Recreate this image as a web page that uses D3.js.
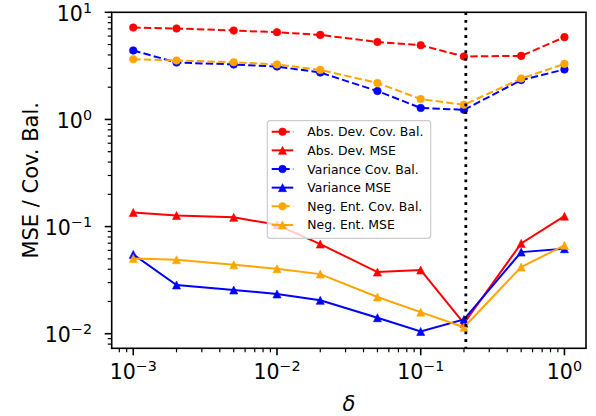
<!DOCTYPE html>
<html>
<head>
<meta charset="utf-8">
<script src="https://cdn.jsdelivr.net/npm/d3@7"></script>
<style>
  html, body { margin: 0; padding: 0; background: #fff; }
  svg { display: block; font-family: "DejaVu Sans", sans-serif; }
</style>
</head>
<body>
<svg id="chart" width="596" height="416"></svg>
<script>
// ---- data ----
const deltas = [0.001, 0.002, 0.005, 0.01, 0.02, 0.05, 0.1, 0.2, 0.5, 1.0];
const absDevCovBal = [7.21, 7.06, 6.76, 6.52, 6.15, 5.29, 4.93, 3.87, 3.92, 5.86];
const absDevMSE = [0.1356, 0.127, 0.122, 0.104, 0.0687, 0.0376, 0.0393, 0.0125, 0.0697, 0.125];
const varCovBal = [4.40, 3.40, 3.26, 3.12, 2.74, 1.84, 1.28, 1.23, 2.33, 2.93];
const varMSE = [0.0550, 0.0285, 0.0256, 0.0235, 0.0205, 0.0141, 0.0105, 0.0136, 0.0578, 0.0621];
const negEntCovBal = [3.65, 3.55, 3.42, 3.26, 2.90, 2.19, 1.55, 1.37, 2.41, 3.30];
const negEntMSE = [0.0505, 0.0490, 0.0440, 0.0404, 0.0360, 0.0220, 0.0159, 0.0115, 0.0419, 0.0668];
const seriesNames = ["Abs. Dev. Cov. Bal.", "Abs. Dev. MSE", "Variance Cov. Bal.", "Variance MSE", "Neg. Ent. Cov. Bal.", "Neg. Ent. MSE"];
const seriesColors = ["#ff0000", "#ff0000", "#0000ff", "#0000ff", "#ffa500", "#ffa500"];
const seriesKinds = ["cov", "mse", "cov", "mse", "cov", "mse"];
const seriesValues = [absDevCovBal, absDevMSE, varCovBal, varMSE, negEntCovBal, negEntMSE];
const vlineDelta = 0.206;
const xTickExps = [-3, -2, -1, 0];
const yTickExps = [-2, -1, 0, 1];
const xLabel = "δ";
const yLabel = "MSE / Cov. Bal.";

// ---- layout ----
const L = 111.7, R = 586, T = 12.3, B = 348.3;
const x = d3.scaleLog().domain([Math.pow(10, -3.15), Math.pow(10, 0.15)]).range([L, R]);
const y = d3.scaleLog().domain([Math.pow(10, -2.136), 10]).range([B, T]);

const svg = d3.select("#chart");
const lw = 2;
const dash = "7.4,3.2";

// plot clip
svg.append("defs").append("clipPath").attr("id", "clip")
  .append("rect").attr("x", L).attr("y", T).attr("width", R - L).attr("height", B - T);

const plot = svg.append("g").attr("clip-path", "url(#clip)");

const line = d3.line().x(d => x(d[0])).y(d => y(d[1]));

function triPath(cx, cy, s) {
  return `M${cx},${cy - s}L${cx - s},${cy + s}L${cx + s},${cy + s}Z`;
}

seriesValues.forEach((vals, i) => {
  const pts = deltas.map((d, j) => [d, vals[j]]);
  const col = seriesColors[i];
  plot.append("path").datum(pts)
    .attr("d", line)
    .attr("fill", "none")
    .attr("stroke", col)
    .attr("stroke-width", lw)
    .attr("stroke-dasharray", seriesKinds[i] === "cov" ? dash : null);
  if (seriesKinds[i] === "cov") {
    plot.selectAll(null).data(pts).enter().append("circle")
      .attr("cx", d => x(d[0])).attr("cy", d => y(d[1]))
      .attr("r", 3.8).attr("fill", col).attr("stroke", col).attr("stroke-width", 0.6);
  } else {
    plot.selectAll(null).data(pts).enter().append("path")
      .attr("d", d => triPath(x(d[0]), y(d[1]), 4))
      .attr("fill", col).attr("stroke", col).attr("stroke-width", 0.6);
  }
});

// vertical dotted line
plot.append("line")
  .attr("x1", x(vlineDelta)).attr("x2", x(vlineDelta))
  .attr("y1", T).attr("y2", B)
  .attr("stroke", "#000").attr("stroke-width", 2.8)
  .attr("stroke-dasharray", "2.8,4.8");

// frame
svg.append("rect").attr("x", L).attr("y", T).attr("width", R - L).attr("height", B - T)
  .attr("fill", "none").attr("stroke", "#000").attr("stroke-width", 1.6);

// ticks
const majorLen = 7, minorLen = 4;
function minorTicks(scale) {
  const [a, b] = scale.domain();
  const out = [];
  for (let e = Math.floor(Math.log10(a)); e <= Math.ceil(Math.log10(b)); e++) {
    for (let m = 2; m <= 9; m++) {
      const v = m * Math.pow(10, e);
      if (v >= a && v <= b) out.push(v);
    }
  }
  return out;
}
const tg = svg.append("g");
minorTicks(x).forEach(v => {
  tg.append("line").attr("x1", x(v)).attr("x2", x(v)).attr("y1", B).attr("y2", B + minorLen)
    .attr("stroke", "#000").attr("stroke-width", 1.2);
});
minorTicks(y).forEach(v => {
  tg.append("line").attr("y1", y(v)).attr("y2", y(v)).attr("x1", L).attr("x2", L - minorLen)
    .attr("stroke", "#000").attr("stroke-width", 1.2);
});
xTickExps.forEach(e => {
  const v = Math.pow(10, e);
  tg.append("line").attr("x1", x(v)).attr("x2", x(v)).attr("y1", B).attr("y2", B + majorLen)
    .attr("stroke", "#000").attr("stroke-width", 1.6);
  const t = tg.append("text").attr("x", x(v)).attr("y", 379)
    .attr("text-anchor", "middle").attr("font-size", 20.5).attr("fill", "#000");
  t.append("tspan").text("10");
  t.append("tspan").attr("dy", -8).attr("font-size", 14.3).text(String(e).replace("-", "\u2212"));
});
yTickExps.forEach(e => {
  const v = Math.pow(10, e);
  tg.append("line").attr("y1", y(v)).attr("y2", y(v)).attr("x1", L).attr("x2", L - majorLen)
    .attr("stroke", "#000").attr("stroke-width", 1.6);
  const t = tg.append("text").attr("x", 92).attr("y", y(v) + 8.5)
    .attr("text-anchor", "end").attr("font-size", 20.5).attr("fill", "#000");
  t.append("tspan").text("10");
  t.append("tspan").attr("dy", -8).attr("font-size", 14.3).text(String(e).replace("-", "\u2212"));
});

// axis labels
svg.append("text").attr("x", (L + R) / 2).attr("y", 411)
  .attr("text-anchor", "middle").attr("font-size", 21).attr("font-style", "italic")
  .text(xLabel);
svg.append("text").attr("transform", `translate(37.5,${(T + B) / 2}) rotate(-90)`)
  .attr("text-anchor", "middle").attr("font-size", 21)
  .text(yLabel);

// legend
const lg = svg.append("g");
lg.append("rect").attr("x", 267.3).attr("y", 120.7).attr("width", 163.4).attr("height", 117.6)
  .attr("rx", 3).attr("fill", "#fff").attr("fill-opacity", 0.8)
  .attr("stroke", "#cccccc").attr("stroke-width", 1.2);
seriesNames.forEach((name, i) => {
  const cy = 131.7 + i * 18.65;
  const col = seriesColors[i];
  lg.append("line").attr("x1", 271.7).attr("x2", 293.3).attr("y1", cy).attr("y2", cy)
    .attr("stroke", col).attr("stroke-width", lw)
    .attr("stroke-dasharray", seriesKinds[i] === "cov" ? dash : null);
  if (seriesKinds[i] === "cov") {
    lg.append("circle").attr("cx", 282.5).attr("cy", cy).attr("r", 3.8)
      .attr("fill", col).attr("stroke", col).attr("stroke-width", 0.6);
  } else {
    lg.append("path").attr("d", triPath(282.5, cy, 4))
      .attr("fill", col).attr("stroke", col).attr("stroke-width", 0.6);
  }
  lg.append("text").attr("x", 307.3).attr("y", cy + 4.5)
    .attr("font-size", 12.4).attr("fill", "#000").text(name);
});
</script>
</body>
</html>
